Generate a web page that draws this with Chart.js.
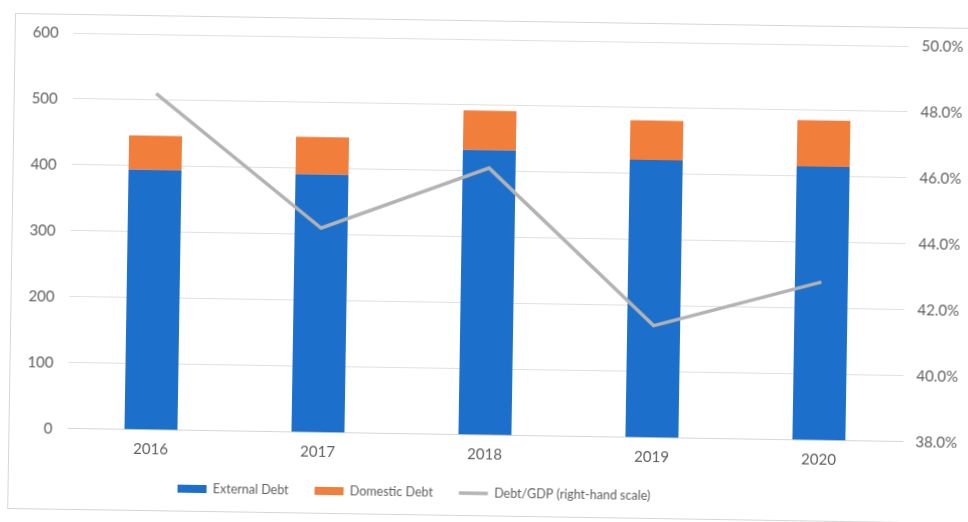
<!DOCTYPE html>
<html>
<head>
<meta charset="utf-8">
<script src="https://cdn.jsdelivr.net/npm/chart.js@4.4.1/dist/chart.umd.min.js"></script>
<style>
    html, body { margin: 0; padding: 0; background: #fff; overflow: hidden; }
    #frame {
        position: absolute;
        left: 15px;
        top: 13px;
        width: 960px;
        height: 494px;
        border: 1px solid #d6d6d6;
        transform: rotate(0.9deg);
        transform-origin: 0 0;
    }
</style>
</head>
<body>
<div id="frame"><canvas id="myChart" width="960" height="494"></canvas></div>
<script>
var years = ['2016', '2017', '2018', '2019', '2020'];
var externalDebt = [394, 391, 432, 421, 415];
var domesticDebt = [52, 57, 60, 60, 70];
var debtGdp = [48.2, 44.2, 46.1, 41.4, 42.8];
var leftTicks = [0, 100, 200, 300, 400, 500, 600];
var rightTicks = [38, 40, 42, 44, 46, 48, 50];

var textColor = '#5f5f5f';
var gridColor = '#e0e0e0';

Chart.defaults.font.family = 'Lato';
Chart.defaults.color = textColor;

// legend sits left of centre, under the first bars
var shiftLegend = {
    id: 'shiftLegend',
    afterLayout: function (chart) {
        chart.legend.left = 143;
    }
};

// value axes: fixed width, no extra room above/below the plot
function fitValueAxis(width) {
    return function (axis) {
        axis.width = width;
        axis.paddingTop = 0;
        axis.paddingBottom = 0;
    };
}

function graficos() {
    var ctx = document.getElementById('myChart').getContext('2d');
    var myChart = new Chart(ctx, {
        type: 'bar',
        data: {
            labels: years,
            datasets: [{
                label: 'External Debt',
                data: externalDebt,
                backgroundColor: '#1c6fca',
                borderWidth: 0,
                pointStyle: 'rect',
                yAxisID: 'y'
            }, {
                label: 'Domestic Debt',
                data: domesticDebt,
                backgroundColor: '#f27e3c',
                borderWidth: 0,
                pointStyle: 'rect',
                yAxisID: 'y'
            }, {
                type: 'line',
                label: 'Debt/GDP (right-hand scale)',
                data: debtGdp,
                borderColor: '#b3b3b3',
                backgroundColor: '#b3b3b3',
                borderWidth: 3.5,
                tension: 0,
                pointRadius: 0,
                pointStyle: 'line',
                order: -1,
                yAxisID: 'y1'
            }]
        },
        options: {
            responsive: false,
            animation: false,
            barPercentage: 1,
            categoryPercentage: 0.317,
            layout: {
                padding: {top: 18, bottom: 5.8, left: 0, right: 0}
            },
            plugins: {
                tooltip: {enabled: false},
                legend: {
                    position: 'bottom',
                    align: 'start',
                    labels: {
                        usePointStyle: true,
                        pointStyleWidth: 29,
                        boxHeight: 8,
                        padding: 26,
                        color: textColor,
                        font: {size: 12.5},
                        sort: function (a, b) { return a.datasetIndex - b.datasetIndex; }
                    }
                }
            },
            scales: {
                x: {
                    stacked: true,
                    grid: {display: false, drawTicks: false},
                    border: {display: true, color: '#d6d6d6', width: 1},
                    ticks: {padding: 10, font: {size: 15}, color: textColor},
                    afterFit: function (axis) { axis.height = 26; }
                },
                y: {
                    stacked: true,
                    position: 'left',
                    min: 0,
                    max: 600,
                    grid: {color: gridColor, drawTicks: false},
                    border: {display: false},
                    ticks: {padding: 15, font: {size: 15}, color: textColor},
                    afterBuildTicks: function (axis) {
                        axis.ticks = leftTicks.map(function (v) { return {value: v}; });
                    },
                    afterFit: fitValueAxis(58)
                },
                y1: {
                    position: 'right',
                    min: 38,
                    max: 50,
                    grid: {display: false, drawTicks: false},
                    border: {display: false},
                    ticks: {
                        padding: 13,
                        font: {size: 15},
                        color: textColor,
                        callback: function (v) { return v.toFixed(1) + '%'; }
                    },
                    afterBuildTicks: function (axis) {
                        axis.ticks = rightTicks.map(function (v) { return {value: v}; });
                    },
                    afterFit: fitValueAxis(67)
                }
            }
        },
        plugins: [shiftLegend]
    });
}

graficos();
</script>
</body>
</html>
